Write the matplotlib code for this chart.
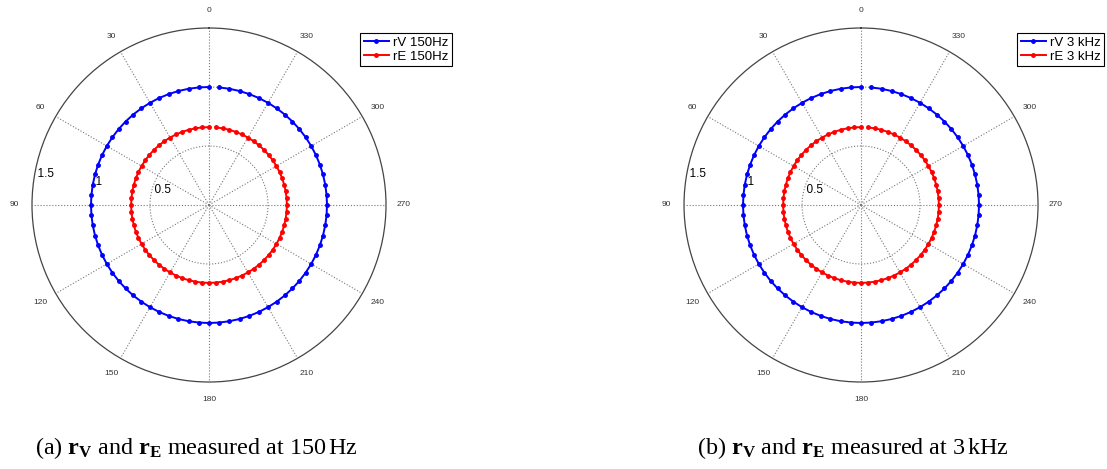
import numpy as np
import matplotlib.pyplot as plt

plt.rcParams['font.family'] = ['Liberation Sans', 'DejaVu Sans']
plt.rcParams['mathtext.fontset'] = 'custom'
plt.rcParams['mathtext.rm'] = 'Liberation Serif'
plt.rcParams['mathtext.bf'] = 'Liberation Serif:bold'
plt.rcParams['mathtext.it'] = 'Liberation Serif:italic'

# measurement angles (deg), one every 5 degrees, line left open between 355 and 0
angle_deg = np.arange(0, 360, 5)

rV_150 = [1.00, 1.00, 1.00, 1.00, 1.00, 1.00, 1.00, 1.00, 1.00, 1.00, 1.00, 1.00,
          1.00, 1.00, 1.00, 1.00, 1.00, 1.00, 1.00, 1.00, 1.00, 1.00, 1.00, 1.00,
          1.00, 1.00, 1.00, 1.00, 1.00, 1.00, 1.00, 1.00, 1.00, 1.00, 1.00, 1.00,
          1.00, 1.00, 1.00, 1.00, 1.00, 1.00, 1.00, 1.00, 1.00, 1.00, 1.00, 1.00,
          1.00, 1.00, 1.00, 1.00, 1.00, 1.00, 1.00, 1.00, 1.00, 1.00, 1.00, 1.00,
          1.00, 1.00, 1.00, 1.00, 1.00, 1.00, 1.00, 1.00, 1.00, 1.00, 1.00, 1.00]
rE_150 = [0.66, 0.66, 0.66, 0.66, 0.66, 0.66, 0.66, 0.66, 0.66, 0.66, 0.66, 0.66,
          0.66, 0.66, 0.66, 0.66, 0.66, 0.66, 0.66, 0.66, 0.66, 0.66, 0.66, 0.66,
          0.66, 0.66, 0.66, 0.66, 0.66, 0.66, 0.66, 0.66, 0.66, 0.66, 0.66, 0.66,
          0.66, 0.66, 0.66, 0.66, 0.66, 0.66, 0.66, 0.66, 0.66, 0.66, 0.66, 0.66,
          0.66, 0.66, 0.66, 0.66, 0.66, 0.66, 0.66, 0.66, 0.66, 0.66, 0.66, 0.66,
          0.66, 0.66, 0.66, 0.66, 0.66, 0.66, 0.66, 0.66, 0.66, 0.66, 0.66, 0.66]
rV_3k = [1.00, 1.00, 1.00, 1.00, 1.00, 1.00, 1.00, 1.00, 1.00, 1.00, 1.00, 1.00,
         1.00, 1.00, 1.00, 1.00, 1.00, 1.00, 1.00, 1.00, 1.00, 1.00, 1.00, 1.00,
         1.00, 1.00, 1.00, 1.00, 1.00, 1.00, 1.00, 1.00, 1.00, 1.00, 1.00, 1.00,
         1.00, 1.00, 1.00, 1.00, 1.00, 1.00, 1.00, 1.00, 1.00, 1.00, 1.00, 1.00,
         1.00, 1.00, 1.00, 1.00, 1.00, 1.00, 1.00, 1.00, 1.00, 1.00, 1.00, 1.00,
         1.00, 1.00, 1.00, 1.00, 1.00, 1.00, 1.00, 1.00, 1.00, 1.00, 1.00, 1.00]
rE_3k = [0.66, 0.66, 0.66, 0.66, 0.66, 0.66, 0.66, 0.66, 0.66, 0.66, 0.66, 0.66,
         0.66, 0.66, 0.66, 0.66, 0.66, 0.66, 0.66, 0.66, 0.66, 0.66, 0.66, 0.66,
         0.66, 0.66, 0.66, 0.66, 0.66, 0.66, 0.66, 0.66, 0.66, 0.66, 0.66, 0.66,
         0.66, 0.66, 0.66, 0.66, 0.66, 0.66, 0.66, 0.66, 0.66, 0.66, 0.66, 0.66,
         0.66, 0.66, 0.66, 0.66, 0.66, 0.66, 0.66, 0.66, 0.66, 0.66, 0.66, 0.66,
         0.66, 0.66, 0.66, 0.66, 0.66, 0.66, 0.66, 0.66, 0.66, 0.66, 0.66, 0.66]

spoke_deg = [0, 30, 60, 90, 120, 150, 180, 210, 240, 270, 300, 330]
ring_ticks = [0.5, 1.0, 1.5]
rmax = 1.5

panels = [
    (rV_150, rE_150, 'rV 150Hz', 'rE 150Hz',
     r'(a) $\mathbf{r}_{\mathbf{V}}$ and $\mathbf{r}_{\mathbf{E}}$ measured at 150$\,$Hz',
     0.0289, 0.3252, 0.032),
    (rV_3k, rE_3k, 'rV 3 kHz', 'rE 3 kHz',
     r'(b) $\mathbf{r}_{\mathbf{V}}$ and $\mathbf{r}_{\mathbf{E}}$ measured at 3$\,$kHz',
     0.6179, 0.9187, 0.630),
]

fig = plt.figure(figsize=(11.07, 4.69), dpi=100)

for rV, rE, labV, labE, caption, ax_left, leg_x, cap_x in panels:
    ax = fig.add_axes([ax_left, 0.1855, 0.3198, 0.7548], projection='polar')
    ax.set_theta_zero_location('N')
    ax.set_theta_direction(1)
    ax.set_ylim(0, rmax)
    ax.grid(False)
    ax.set_xticks([])
    ax.set_yticks([])
    ax.spines['polar'].set_color('#444444')
    ax.spines['polar'].set_linewidth(0.9)

    # dotted spokes and inner rings
    full = np.linspace(0, 2 * np.pi, 361)
    for r in ring_ticks[:-1]:
        ax.plot(full, np.full_like(full, r), ls=':', color='#777777', lw=0.8)
    for a in spoke_deg:
        t = np.deg2rad(a)
        ax.plot([t, t], [0, rmax], ls=':', color='#777777', lw=0.8)
        ax.text(t, rmax * 1.1, str(a), fontsize=6, color='#333333',
                ha='center', va='center')
    for r in ring_ticks:
        ax.text(np.deg2rad(82), r + 0.025, '  ' + ('%g' % r), fontsize=8.5,
                color='black', ha='left', va='bottom')

    th = np.deg2rad(angle_deg)
    ax.plot(th, rV, color='#0000ff', lw=1.4, marker='.', ms=5, label=labV)
    ax.plot(th, rE, color='#ff0000', lw=1.4, marker='.', ms=5, label=labE)

    leg = ax.legend(loc='upper left', bbox_to_anchor=(leg_x, 1 - 33 / 469),
                    bbox_transform=fig.transFigure, fontsize=9.5, frameon=True,
                    fancybox=False, edgecolor='black', framealpha=1,
                    handlelength=1.9, handletextpad=0.3, labelspacing=0.12,
                    borderpad=0.28, borderaxespad=0)
    leg.get_frame().set_linewidth(0.8)

    fig.text(cap_x, 0.045, caption, fontsize=17.4, family='Liberation Serif',
             ha='left', va='center')

fig.savefig('out.png', dpi=100)
